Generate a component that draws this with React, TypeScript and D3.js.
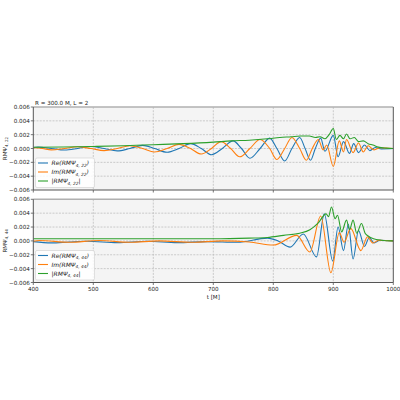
import React from 'react';
import * as d3 from 'd3';

type P = [number, number];

const xTicks = [400, 500, 600, 700, 800, 900, 1000];
const yTicks = [-0.006, -0.004, -0.002, 0, 0.002, 0.004, 0.006];
const title = 'R = 300.0 M, L = 2';
const xLabel = 't [M]';
const modes = ['4, 22', '4, 44'];

const re22: P[] = [
  [400, 0.00015], [408, 0.0002], [430, 0], [452, -0.00022], [474, 0], [496, 0.0003], [518, 0],
  [540, -0.00035], [561, 0], [582, 0.00045], [602, 0], [623, -0.00055], [643, 0], [662, 0.0007],
  [680, 0], [697, -0.0009], [715, 0], [733, 0.0011], [747, 0], [761, -0.0014], [778, 0],
  [794, 0.0015], [806, 0], [819, -0.0018], [831, 0], [844, 0.0016], [853, 0], [862, -0.0017],
  [870, 0], [879, 0.0015], [886, -0.0004], [900, 0.0019], [908, -0.0012], [917, 0.001],
  [927, -0.0007], [934, 0.0007], [942, -0.0006], [952, 0.0005], [961, -0.0003], [970, 0.00015],
  [980, -0.00005], [1000, 0],
];
const im22: P[] = [
  [400, 0.0001], [415, 0], [430, -0.0002], [452, 0], [474, 0.00025], [496, 0], [518, -0.0003],
  [540, 0], [561, 0.0004], [582, 0], [602, -0.0005], [623, 0], [643, 0.0006], [662, 0],
  [680, -0.0008], [697, 0], [713, 0.001], [729, 0], [744, -0.0012], [761, 0], [778, 0.0013],
  [794, 0], [806, -0.0016], [819, 0], [831, 0.0016], [844, 0], [855, -0.0017], [865, 0],
  [875, 0.0013], [883, -0.0002], [889, 0.0005], [900, -0.0026], [910, 0.0011], [917, -0.0005],
  [922, 0.0013], [933, -0.0006], [942, 0.0008], [950, -0.0005], [958, 0.0004], [968, -0.0002],
  [978, 0.0001], [1000, 0],
];
const abs22: P[] = [
  [400, 0.00017], [450, 0.00022], [500, 0.0003], [550, 0.0004], [600, 0.00055], [650, 0.0007],
  [700, 0.00092], [730, 0.0011], [760, 0.0012], [790, 0.0014], [811, 0.0016], [830, 0.0017],
  [845, 0.0018], [860, 0.0018], [870, 0.0016], [878, 0.0017], [886, 0.0014], [893, 0.002],
  [900, 0.0029], [905, 0.0013], [911, 0.0019], [917, 0.0014], [922, 0.0021], [928, 0.0014],
  [935, 0.0016], [942, 0.001], [950, 0.0011], [958, 0.0007], [966, 0.0005], [975, 0.0002],
  [988, 0.00005], [1000, 0],
];
const re44: P[] = [
  [400, -0.0001], [430, -0.00028], [460, -0.00015], [490, -0.00005], [540, -0.00025],
  [590, -0.00005], [640, -0.00025], [690, -0.0001], [740, -0.0002], [790, 0.0004], [808, 0],
  [828, -0.0009], [850, 0.001], [872, -0.0023], [885, 0.0039], [899, -0.0029], [908, 0.002],
  [917, -0.0014], [925, 0.0024], [933, -0.0026], [942, 0.0015], [952, -0.0008], [960, 0.0005],
  [968, -0.0003], [978, 0.0001], [1000, 0],
];
const im44: P[] = [
  [400, -0.00005], [410, 0.00005], [460, -0.0002], [510, 0.00005], [560, -0.0002], [610, 0],
  [665, -0.0002], [715, 0], [760, -0.00015], [800, -0.0006], [839, 0.0008], [861, -0.0016],
  [879, 0.0036], [896, -0.0046], [910, 0.0012], [918, -0.0002], [929, 0.0018], [946, -0.0014],
  [957, 0.0006], [966, -0.0003], [976, 0.0001], [1000, 0],
];
const abs44: P[] = [
  [400, 0.0003], [500, 0.0003], [600, 0.0003], [700, 0.0003], [760, 0.0004], [790, 0.0005],
  [817, 0.0008], [844, 0.0011], [861, 0.0016], [875, 0.0026], [888, 0.0039], [892, 0.0035],
  [897, 0.0049], [903, 0.0032], [907, 0.0037], [914, 0.0013], [922, 0.003], [927, 0.0016],
  [933, 0.003], [939, 0.0011], [947, 0.0025], [953, 0.0011], [958, 0.0007], [967, 0.0003],
  [980, 0.0001], [1000, 0],
];

const colors = ['#1f77b4', '#ff7f0e', '#2ca02c'];
const FONT = 'DejaVu Sans, sans-serif';

export default function App() {
  const x = d3.scaleLinear().domain([400, 1000]).range([33.3, 393.3]);
  const fmt = d3.format('.3f');
  const panels = [
    { top: 107, bottom: 190, series: [re22, im22, abs22], sub: modes[0], showX: false },
    { top: 199.3, bottom: 282.5, series: [re44, im44, abs44], sub: modes[1], showX: true },
  ];
  const [x0, x1] = x.range();
  return (
    <svg width={400} height={400} style={{ position: 'absolute', left: 0, top: 0, background: '#fff' }}
      fontFamily={FONT}>
      <text x={35} y={104.5} fontSize={5.6} fill="#222">{title}</text>
      {panels.map((p, pi) => {
        const y = d3.scaleLinear().domain([-0.006, 0.006]).range([p.bottom, p.top]);
        const line = d3.line<P>().x(d => x(d[0])).y(d => y(d[1])).curve(d3.curveMonotoneX);
        const names = ['Re', 'Im', ''];
        const ly = p.bottom - 32;
        return (
          <g key={pi}>
            <defs>
              <clipPath id={'clip' + pi}>
                <rect x={x0} y={p.top} width={x1 - x0} height={p.bottom - p.top} />
              </clipPath>
            </defs>
            <rect x={x0} y={p.top} width={x1 - x0} height={p.bottom - p.top} fill="#f4f4f4" />
            {xTicks.slice(1, -1).map(t => (
              <line key={'gx' + t} x1={x(t)} x2={x(t)} y1={p.top} y2={p.bottom}
                stroke="#b8b8b8" strokeWidth={0.7} strokeDasharray="2,1.2" />
            ))}
            {yTicks.slice(1, -1).map(v => (
              <line key={'gy' + v} x1={x0} x2={x1} y1={y(v)} y2={y(v)}
                stroke="#b8b8b8" strokeWidth={0.7} strokeDasharray="2,1.2" />
            ))}
            <g clipPath={`url(#clip${pi})`}>
              {p.series.map((s, si) => (
                <path key={si} d={line(s) || ''} fill="none" stroke={colors[si]} strokeWidth={1.1} />
              ))}
            </g>
            <line x1={x0} x2={x1} y1={p.top} y2={p.top} stroke="#b0b0b0" strokeWidth={1.5} />
            <line x1={x0} x2={x0} y1={p.top} y2={p.bottom} stroke="#555" strokeWidth={1} />
            <line x1={x1} x2={x1} y1={p.top} y2={p.bottom} stroke="#555" strokeWidth={1} />
            <line x1={x0} x2={x1} y1={p.bottom} y2={p.bottom} stroke="#555" strokeWidth={1} />
            {xTicks.map(t => (
              <g key={'xt' + t}>
                <line x1={x(t)} x2={x(t)} y1={p.bottom} y2={p.bottom + 2.5} stroke="#555" strokeWidth={0.8} />
                {p.showX && (
                  <text x={x(t)} y={p.bottom + 8.5} fontSize={5.6} textAnchor="middle" fill="#222">{t}</text>
                )}
              </g>
            ))}
            {yTicks.map(v => (
              <g key={'yt' + v}>
                <line x1={x0 - 2.5} x2={x0} y1={y(v)} y2={y(v)} stroke="#555" strokeWidth={0.8} />
                <text x={x0 - 3.5} y={y(v) + 2} fontSize={5.6} textAnchor="end" fill="#222">{fmt(v)}</text>
              </g>
            ))}
            <text transform={`translate(6.5,${(p.top + p.bottom) / 2}) rotate(-90)`} fontSize={5.6}
              textAnchor="middle" fill="#222">
              RMΨ<tspan fontSize={4} dy={1.5}>{p.sub}</tspan>
            </text>
            <rect x={35.5} y={ly} width={59} height={29.5} rx={1.5} fill="#ffffff" fillOpacity={0.85}
              stroke="#cccccc" strokeWidth={0.6} />
            {names.map((n, i) => {
              const ry = ly + 5 + i * 9;
              return (
                <g key={'lg' + i}>
                  <line x1={38} x2={48} y1={ry} y2={ry} stroke={colors[i]} strokeWidth={1.1} />
                  <text x={51.5} y={ry + 2.1} fontSize={6} fill="#222" fontStyle="italic">
                    {n ? n + '(' : '|'}RMΨ<tspan fontSize={4.3} dy={1.4}>{p.sub}</tspan>
                    <tspan dy={-1.4}>{n ? ')' : '|'}</tspan>
                  </text>
                </g>
              );
            })}
          </g>
        );
      })}
      <text x={x(700)} y={298.5} fontSize={5.6} textAnchor="middle" fill="#222">{xLabel}</text>
    </svg>
  );
}
